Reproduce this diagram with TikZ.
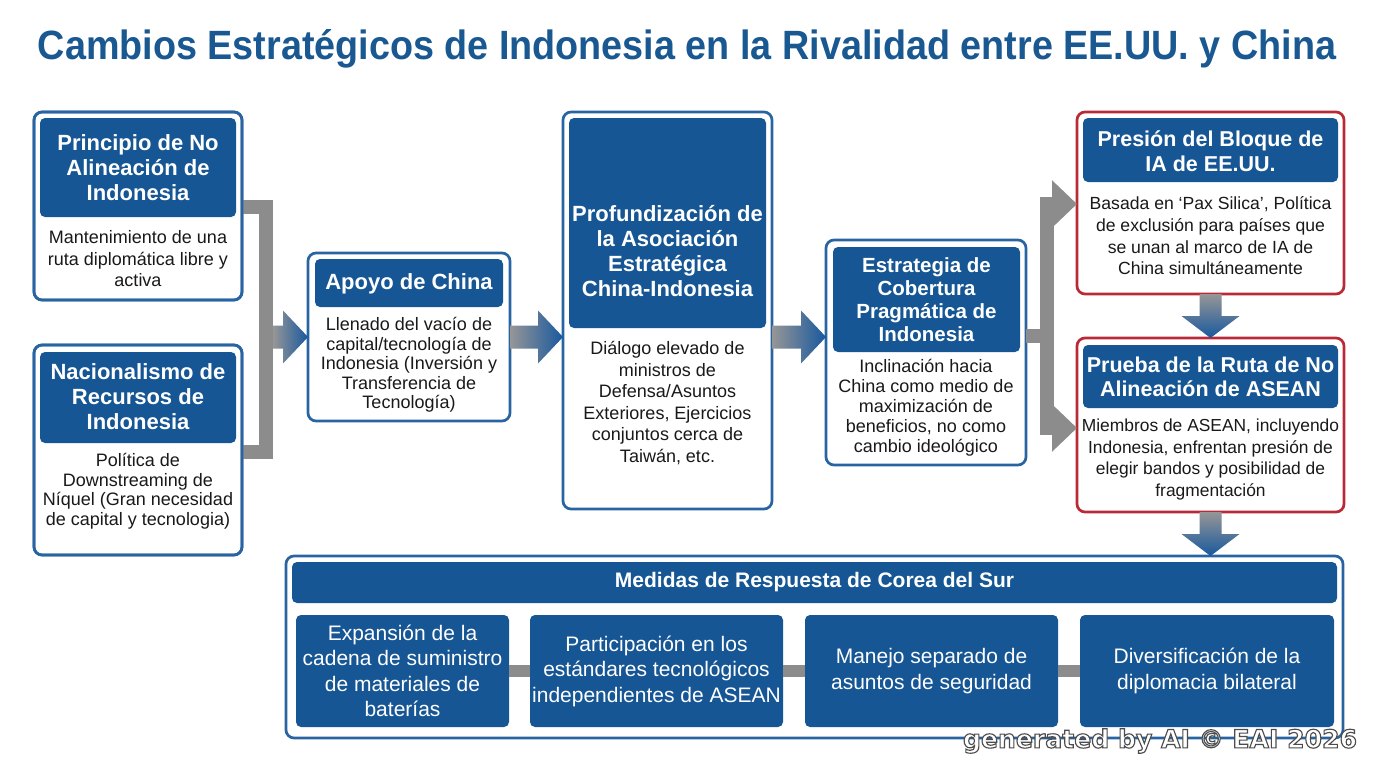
\documentclass[tikz,border=0pt]{standalone}
\usepackage{graphicx}
\usepackage{fontspec}
\setmainfont{Liberation Sans}
\newfontfamily\wmfont{DejaVu Sans}
\usetikzlibrary{arrows.meta,calc}
\definecolor{hblue}{RGB}{22,86,148}
\definecolor{bblue}{RGB}{40,100,162}
\definecolor{tblue}{RGB}{26,88,146}
\definecolor{bred}{RGB}{186,42,54}
\definecolor{cgray}{RGB}{140,140,140}
\definecolor{agray}{RGB}{150,150,150}
\definecolor{ablue}{RGB}{24,88,158}
\tikzset{
 obox/.style={draw=bblue, line width=2.7pt, fill=white, rounded corners=8pt, anchor=north west, inner sep=0pt, outer sep=0pt},
 rbox/.style={obox, draw=bred},
 hbox/.style={fill=hblue, rounded corners=5pt, anchor=north west, inner sep=0pt, outer sep=0pt},
 htext/.style={text=white, align=center, inner sep=0pt, font=\bfseries\fontsize{22}{25}\selectfont},
 btext/.style={text=black!90, align=center, inner sep=0pt, font=\fontsize{18}{21.5}\selectfont},
 ftext/.style={hbox, text=white, align=center, font=\fontsize{21}{25.5}\selectfont},
 gbar/.style={draw=cgray, line width=14pt},
 gtip/.style={{Triangle[length=25pt,width=46pt]}-{Triangle[length=25pt,width=46pt]}},
 titletext/.style={text=tblue, inner sep=0pt, font=\bfseries}
}
\newcommand{\harr}[2]{\shade[left color=agray, right color=ablue] let \p1=(#1), \p2=(#2) in
 (\x1,\y2+11.5pt) -- (\x2-25pt,\y2+11.5pt) -- (\x2-25pt,\y2+26.5pt) -- (\x2,\y2) --
 (\x2-25pt,\y2-26.5pt) -- (\x2-25pt,\y2-11.5pt) -- (\x1,\y2-11.5pt) -- cycle;}
\newcommand{\varr}[2]{\shade[top color=agray, bottom color=ablue] let \p1=(#1), \p2=(#2) in
 (\x2-11pt,\y1) -- (\x2-11pt,\y2+22pt) -- (\x2-29pt,\y2+22pt) -- (\x2,\y2) --
 (\x2+29pt,\y2+22pt) -- (\x2+11pt,\y2+22pt) -- (\x2+11pt,\y1) -- cycle;}
\newcommand{\outlinetext}[1]{\special{pdf:literal direct 0.3 G 2 Tr 0.45 w}#1\special{pdf:literal direct 0 Tr 0 G}}
\begin{document}
\begin{tikzpicture}[x=1pt,y=-1pt]
\useasboundingbox (0,0) rectangle (1376,768);
\fill[white] (0,0) rectangle (1376,768);

% title
\node[titletext] (title) at (687,48.5) {\resizebox{1298pt}{30pt}{Cambios Estratégicos de Indonesia en la Rivalidad entre EE.UU. y China}};

% boxes (outer)
\node[obox, minimum width=208pt, minimum height=188pt] (b1) at (34,112) {};
\node[obox, minimum width=208pt, minimum height=210pt] (b2) at (34,345) {};
\node[obox, minimum width=202pt, minimum height=168pt] (ap) at (308,253) {};
\node[obox, minimum width=209pt, minimum height=397pt] (pf) at (563,112) {};
\node[obox, minimum width=200pt, minimum height=225pt] (es) at (826,240) {};
\node[rbox, minimum width=267pt, minimum height=182pt] (pr) at (1077,112) {};
\node[rbox, minimum width=267pt, minimum height=174pt] (pb) at (1077,338) {};
\node[obox, minimum width=1057pt, minimum height=182pt] (ct) at (286,556) {};

% connectors
\coordinate (lt) at (266,206.5);
\coordinate (lb) at (266,451.5);
\coordinate (lm) at (273,337);
\draw[gbar] (b1.east |- lt) -- (lt) -- (lb) -- (b2.east |- lb);
\harr{lm}{ap.west}
\harr{ap.east}{pf.west |- ap.west}
\harr{pf.east |- ap.west}{es.west |- ap.west}
\coordinate (jm) at (1047,336);
\coordinate (jt) at (1047,204);
\coordinate (jb) at (1047,428);
\draw[gbar] (es.east |- jm) -- (jm);
\draw[gbar, gtip] (pr.west |- jt) -- (jt) -- (jb) -- (pb.west |- jb);
\varr{pr.south}{pb.north}
\varr{pb.south}{pb.south |- ct.north}

% redraw box borders on top of bar ends
\draw[draw=bblue, line width=2.7pt, rounded corners=8pt] (b1.north west) rectangle (b1.south east);
\draw[draw=bblue, line width=2.7pt, rounded corners=8pt] (b2.north west) rectangle (b2.south east);

% headers
\node[hbox, minimum width=196pt, minimum height=99pt] (h1) at (40,118) {};
\node[hbox, minimum width=196pt, minimum height=91pt] (h2) at (40,352) {};
\node[hbox, minimum width=188pt, minimum height=48pt] (hap) at (315,259) {};
\node[hbox, minimum width=197pt, minimum height=210pt] (hpf) at (569,118) {};
\node[hbox, minimum width=187pt, minimum height=105pt] (hes) at (833,247) {};
\node[hbox, minimum width=255pt, minimum height=64pt] (hpr) at (1083,118) {};
\node[hbox, minimum width=255pt, minimum height=63pt] (hpb) at (1083,345) {};
\node[hbox, minimum width=1045pt, minimum height=41pt, text=white, font=\bfseries\fontsize{21}{25}\selectfont] (hct) at (292,562) {Medidas de Respuesta de Corea del Sur};

% header texts
\node[htext] (h1t) at (138,168) {Principio de No\\Alineación de\\Indonesia};
\node[htext] (h2t) at (138,397) {Nacionalismo de\\Recursos de\\Indonesia};
\node[htext] (hapt) at (409,284) {Apoyo de China};
\node[htext] (hpft) at (667.5,251) {Profundización de\\la Asociación\\Estratégica\\China-Indonesia};
\node[htext, font=\bfseries\fontsize{20.5}{23}\selectfont] (hest) at (926.5,299.5) {Estrategia de\\Cobertura\\Pragmática de\\Indonesia};
\node[htext, font=\bfseries\fontsize{21.5}{24.5}\selectfont] (hprt) at (1210.5,151) {Presión del Bloque de\\IA de EE.UU.};
\node[htext, font=\bfseries\fontsize{21.5}{24}\selectfont] (hpbt) at (1210.5,376.5) {Prueba de la Ruta de No\\Alineación de ASEAN};

% body texts
\node[btext] (t1) at (138,259) {Mantenimiento de una\\ruta diplomática libre y\\activa};
\node[btext, font=\fontsize{18}{19.5}\selectfont] (t2) at (138,491) {Política de\\Downstreaming de\\Níquel (Gran necesidad\\de capital y tecnologia)};
\node[btext, font=\fontsize{18}{19.5}\selectfont] (tap) at (409,365) {Llenado del vacío de\\capital/tecnología de\\Indonesia (Inversión y\\Transferencia de\\Tecnología)};
\node[btext] (tpf) at (667.5,403) {Diálogo elevado de\\ministros de\\Defensa/Asuntos\\Exteriores, Ejercicios\\conjuntos cerca de\\Taiwán, etc.};
\node[btext, font=\fontsize{18}{20}\selectfont] (tes) at (926,408) {Inclinación hacia\\China como medio de\\maximización de\\beneficios, no como\\cambio ideológico};
\node[btext, font=\fontsize{17.6}{21.7}\selectfont] (tpr) at (1210.5,236) {Basada en ‘Pax Silica’, Política\\de exclusión para países que\\se unan al marco de IA de\\China simultáneamente};
\node[btext, font=\fontsize{17.4}{21.7}\selectfont] (tpb) at (1210.5,459.5) {Miembros de ASEAN, incluyendo\\Indonesia, enfrentan presión de\\elegir bandos y posibilidad de\\fragmentación};

% bottom boxes
\node[ftext, minimum width=213pt, minimum height=112pt] (ba) at (296,615) {Expansión de la\\cadena de suministro\\de materiales de\\baterías};
\node[ftext, minimum width=253pt, minimum height=112pt] (bb) at (530,615) {Participación en los\\estándares tecnológicos\\independientes de ASEAN};
\node[ftext, minimum width=253pt, minimum height=112pt] (bc) at (805,615) {Manejo separado de\\asuntos de seguridad};
\node[ftext, minimum width=254pt, minimum height=112pt] (bd) at (1080,615) {Diversificación de la\\diplomacia bilateral};
\draw[gbar, line width=12pt] (ba.east) -- (bb.west);
\draw[gbar, line width=12pt] (bb.east) -- (bc.west);
\draw[gbar, line width=12pt] (bc.east) -- (bd.west);

% watermark
\node[text=white, inner sep=0pt] (wmt) at (1160,741) {\resizebox{394pt}{!}{\wmfont\bfseries\outlinetext{generated by AI © EAI 2026}}};
\end{tikzpicture}
\end{document}
